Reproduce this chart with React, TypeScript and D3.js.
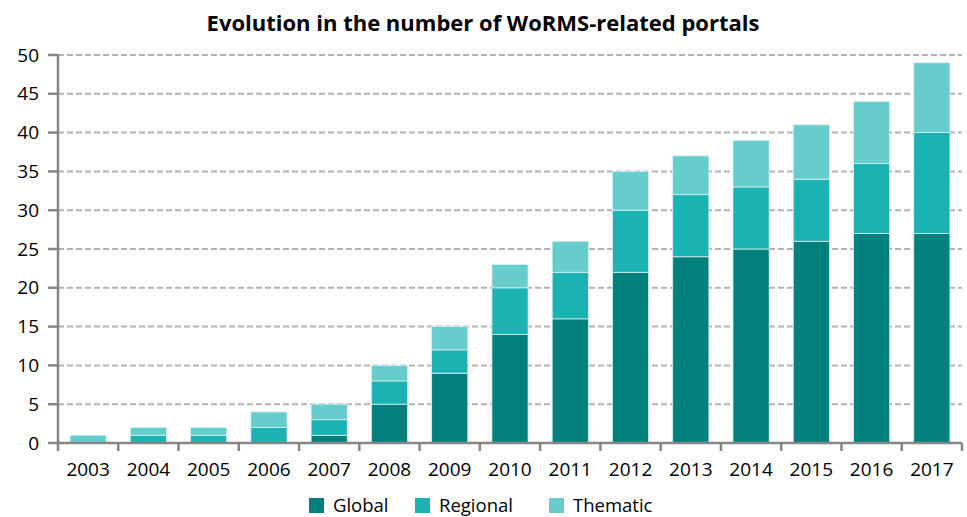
import React from 'react';
import * as d3 from 'd3';

const years = ['2003', '2004', '2005', '2006', '2007', '2008', '2009', '2010', '2011', '2012', '2013', '2014', '2015', '2016', '2017'];
const globalValues = [0, 0, 0, 0, 1, 5, 9, 14, 16, 22, 24, 25, 26, 27, 27];
const regionalValues = [0, 1, 1, 2, 2, 3, 3, 6, 6, 8, 8, 8, 8, 9, 13];
const thematicValues = [1, 1, 1, 2, 2, 2, 3, 3, 4, 5, 5, 6, 7, 8, 9];
const seriesNames = ['Global', 'Regional', 'Thematic'];
const yTicks = [0, 5, 10, 15, 20, 25, 30, 35, 40, 45, 50];

const App = () => {
    const width = 967;
    const height = 517;
    const margin = { top: 55, right: 5, bottom: 74, left: 58 };
    const colors = ['#01807d', '#1ab2b3', '#67cdcc'];
    const font = "'Open Sans', 'Noto Sans', sans-serif";

    const rows = years.map((y, i) => ({
        year: y,
        Global: globalValues[i],
        Regional: regionalValues[i],
        Thematic: thematicValues[i]
    }));

    const stacked = d3.stack<any>().keys(seriesNames)(rows);

    const x = d3.scaleBand()
        .domain(years)
        .range([margin.left, width - margin.right])
        .paddingInner(0.4)
        .paddingOuter(0.2);

    const y = d3.scaleLinear()
        .domain([0, 50])
        .range([height - margin.bottom, margin.top]);

    const x0 = margin.left;
    const x1 = width - margin.right;
    const bounds = d3.range(years.length + 1).map(i => x0 + i * (x1 - x0) / years.length);

    const legendX = [309, 415, 549];

    return (
        <svg width={width} height={height} style={{ position: 'absolute', left: 0, top: 0 }}>
            <rect width={width} height={height} fill="#ffffff" />
            <text x={483} y={31} textAnchor="middle" fontFamily={font} fontWeight="bold" fontSize={22} fill="#000">
                Evolution in the number of WoRMS-related portals
            </text>

            {yTicks.filter(t => t > 0).map(t => (
                <line key={`g-${t}`} x1={x0} x2={x1} y1={y(t)} y2={y(t)}
                    stroke="#b3b3b3" strokeWidth={2} strokeDasharray="6,3" />
            ))}

            {stacked.map((s, si) => (
                <g key={`s-${si}`}>
                    {s.map((d, i) => (
                        d[1] - d[0] > 0 ? (
                            <rect key={`b-${si}-${i}`}
                                x={x(years[i])}
                                y={y(d[1])}
                                width={x.bandwidth()}
                                height={y(d[0]) - y(d[1])}
                                fill={colors[si]}
                                stroke="#d8f0f0"
                                strokeWidth={0.8} />
                        ) : null
                    ))}
                </g>
            ))}

            <line x1={x0} x2={x0} y1={margin.top - 1} y2={y(0)} stroke="#868686" strokeWidth={2.5} />
            {yTicks.map(t => (
                <g key={`yt-${t}`}>
                    <line x1={x0 - 10} x2={x0} y1={y(t)} y2={y(t)} stroke="#868686" strokeWidth={2.5} />
                    <text x={39} y={y(t)} dy="0.35em" textAnchor="end" fontFamily={font} fontSize={19} fill="#000">{t}</text>
                </g>
            ))}

            <line x1={x0} x2={x1} y1={y(0)} y2={y(0)} stroke="#868686" strokeWidth={2.5} />
            {bounds.map((b, i) => (
                <line key={`xt-${i}`} x1={b} x2={b} y1={y(0)} y2={y(0) + 8} stroke="#868686" strokeWidth={2.5} />
            ))}
            {years.map(yr => (
                <text key={`xl-${yr}`} x={(x(yr) ?? 0) + x.bandwidth() / 2} y={476} textAnchor="middle"
                    fontFamily={font} fontSize={19} fill="#000">{yr}</text>
            ))}

            {seriesNames.map((n, i) => (
                <g key={`l-${n}`}>
                    <rect x={legendX[i]} y={498} width={15} height={15} fill={colors[i]} />
                    <text x={legendX[i] + 24} y={506} dy="0.35em" fontFamily={font} fontSize={18.5} fill="#000">{n}</text>
                </g>
            ))}
        </svg>
    );
};

export default App;
